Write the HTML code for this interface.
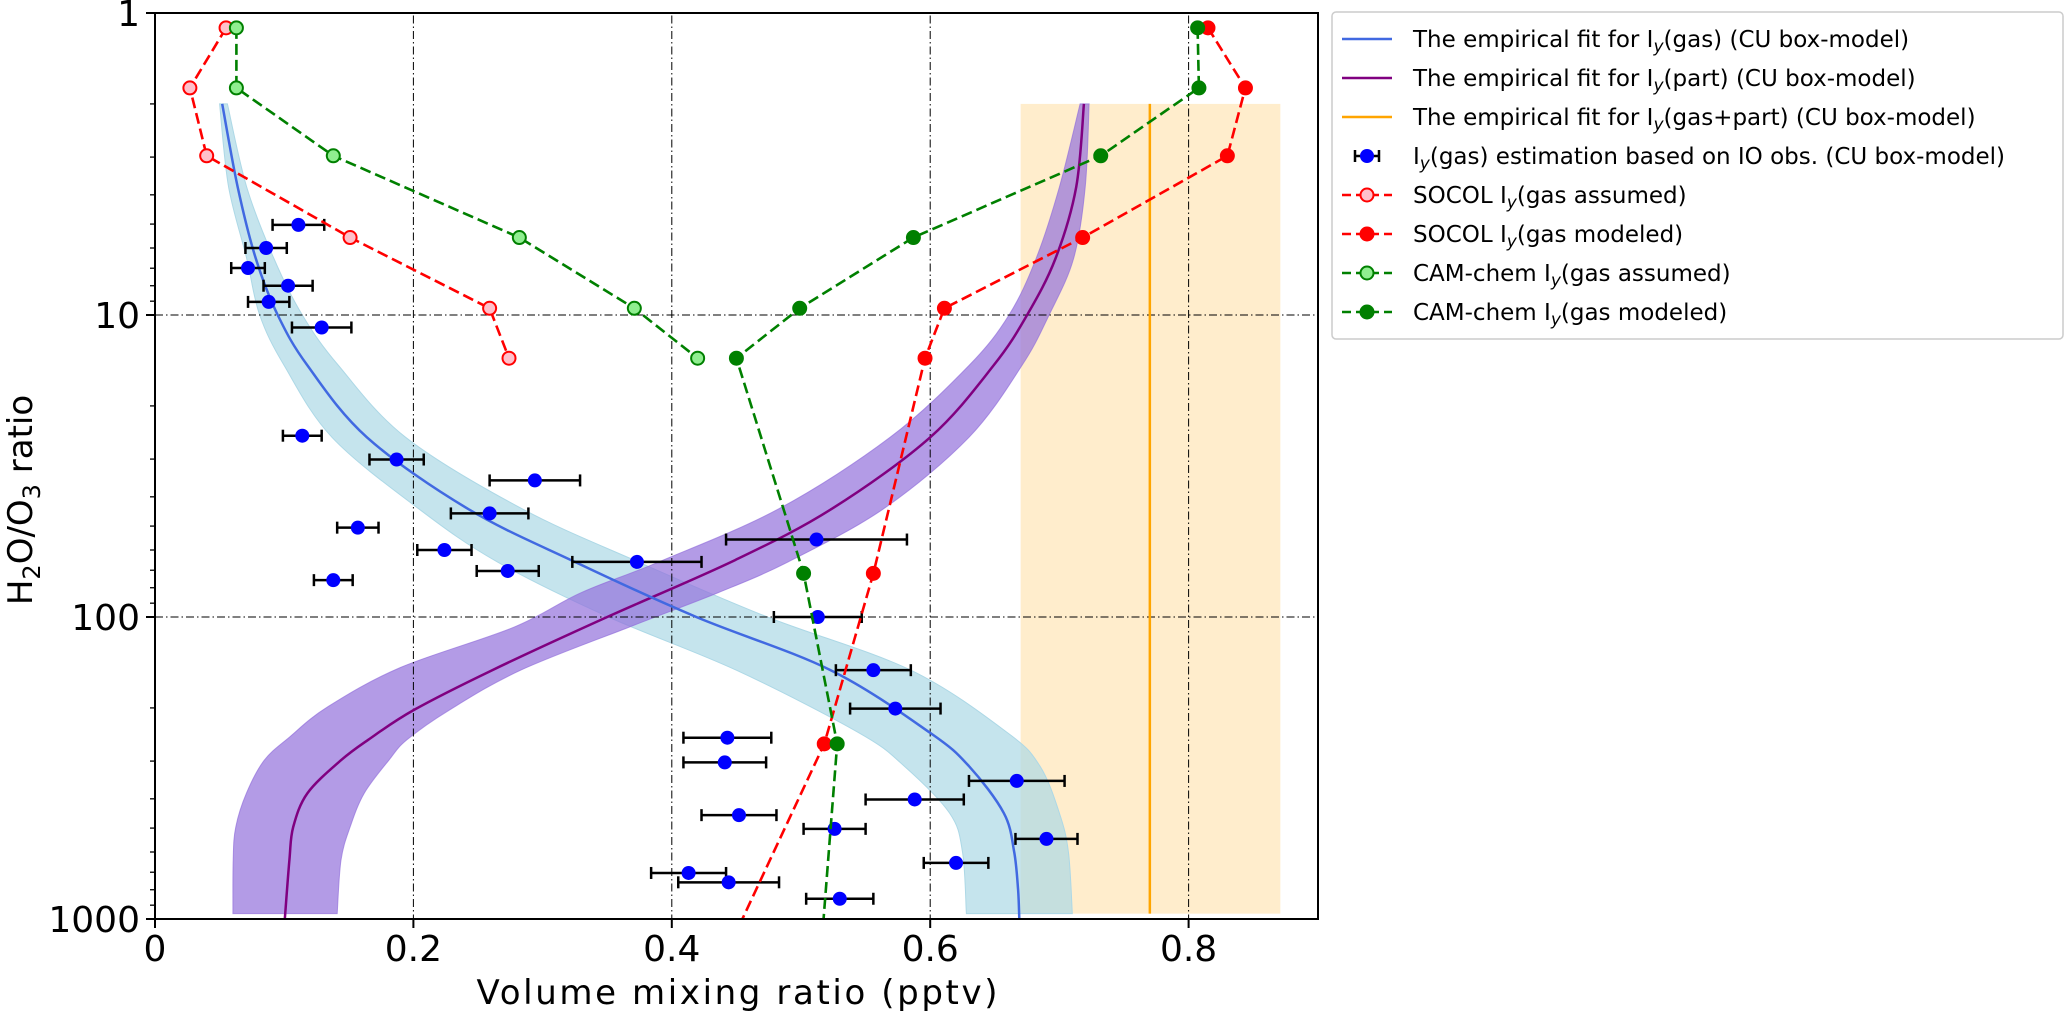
<!DOCTYPE html>
<html><head><meta charset="utf-8">
<style>
html,body{margin:0;padding:0;background:#fff;}
svg{display:block;font-family:"DejaVu Sans","Liberation Sans",sans-serif;}
</style></head>
<body>
<svg id="chart" width="2067" height="1016" viewBox="0 0 2067 1016" xmlns="http://www.w3.org/2000/svg">
<defs><clipPath id="plotclip"><rect x="155" y="13" width="1163" height="906"/></clipPath></defs>
<g id="plot" clip-path="url(#plotclip)"></g>
<g id="axes"></g>
<g id="legend"></g>
</svg>
<script>
// ---- data ----
const xTicks = [0, 0.2, 0.4, 0.6, 0.8];
const xTickLabels = ["0", "0.2", "0.4", "0.6", "0.8"];
const yTicks = [1, 10, 100, 1000];
const yTickLabels = ["1", "10", "100", "1000"];

const obsX = [0.111,0.086,0.072,0.103,0.088,0.129,0.114,0.187,0.294,0.259,0.157,0.224,0.512,0.373,0.273,0.138,0.513,0.556,0.573,0.443,0.441,0.588,0.452,0.526,0.620,0.413,0.444,0.530,0.667,0.690];
const obsY = [5.03,6.0,6.99,8.0,9.05,11.0,25.1,30.1,35.3,45.4,50.6,60.0,55.4,65.7,70.4,75.5,100,150,201,251,303,402,453,503,652,704,756,857,349,543];
const obsErr = [0.02,0.016,0.013,0.019,0.016,0.023,0.015,0.021,0.035,0.03,0.016,0.021,0.07,0.05,0.024,0.015,0.034,0.029,0.035,0.034,0.032,0.038,0.029,0.024,0.025,0.029,0.039,0.026,0.037,0.024];

const modelY = [1.12,1.77,2.97,5.54,9.5,13.9,71.7,263,1200];
const socolAssumedX = [0.055,0.027,0.040,0.151,0.259,0.274];
const socolModeledX = [0.815,0.844,0.830,0.718,0.611,0.596,0.556,0.518,0.446];
const camAssumedX = [0.063,0.063,0.138,0.282,0.371,0.420];
const camModeledX = [0.807,0.808,0.732,0.587,0.499,0.450,0.502,0.528,0.516];

const gasFitY = [2,3.77,6.5,10,14.7,25.4,43.8,65.7,100,150,242,312,446,600,800,1000];
const gasFitX = [0.052,0.064,0.078,0.095,0.118,0.164,0.242,0.325,0.419,0.523,0.600,0.630,0.657,0.665,0.668,0.669];
const gasBandY = [2,3.77,6.5,10,14.7,25.4,43.8,65.7,100,150,242,312,446,600,960];
const gasBandLo = [0.050,0.057,0.071,0.081,0.100,0.137,0.204,0.265,0.351,0.45,0.545,0.58,0.615,0.625,0.628];
const gasBandHi = [0.056,0.071,0.092,0.114,0.142,0.194,0.284,0.374,0.474,0.585,0.66,0.685,0.70,0.707,0.71];

const partFitY = [2,3.77,6.5,10,14.7,25.4,43.8,64.8,100,150,203,255,298,383,496,638,1000];
const partFitX = [0.719,0.713,0.697,0.675,0.649,0.600,0.524,0.449,0.350,0.261,0.2005,0.165,0.144,0.118,0.107,0.104,0.1005];
const partBandLoY = [2,3.77,6.5,10,14.7,25.4,43.8,65.7,83,108,147,198,250,298,383,496,638,960];
const partBandLo = [0.716,0.70,0.682,0.661,0.630,0.569,0.483,0.39,0.33,0.278,0.190,0.134,0.104,0.0846,0.0708,0.0625,0.0605,0.0603];
const partBandHiY = [2,3.77,6.5,10,14.7,25.4,43.8,65.7,83,108,150,203,255,298,383,496,638,960];
const partBandHi = [0.723,0.72,0.711,0.692,0.671,0.630,0.564,0.49,0.436,0.367,0.283,0.228,0.195,0.181,0.162,0.151,0.144,0.141];

const totalFitX = [0.770];
const totalBandX = [0.670, 0.871];
const totalRangeY = [2, 960];

// ---- scales ----
const X0 = 155, XS = 1292, Y0 = 13, YS = 302;
function xs(v){ return X0 + XS*v; }
function ys(v){ return Y0 + YS*Math.log10(v); }
const NS = "http://www.w3.org/2000/svg";
function mk(tag, parent, attrs){
  const e = document.createElementNS(NS, tag);
  for (const k in attrs) e.setAttribute(k, attrs[k]);
  parent.appendChild(e); return e;
}
const plot = document.getElementById('plot');
const axes = document.getElementById('axes');
const legend = document.getElementById('legend');

function smooth(pts, start){
  let d = (start ? 'M' : 'L') + pts[0][0].toFixed(1) + ',' + pts[0][1].toFixed(1);
  for (let i=0;i<pts.length-1;i++){
    const p0 = pts[Math.max(0,i-1)], p1 = pts[i], p2 = pts[i+1], p3 = pts[Math.min(pts.length-1,i+2)];
    const c1x = p1[0] + (p2[0]-p0[0])/6, c1y = p1[1] + (p2[1]-p0[1])/6;
    const c2x = p2[0] - (p3[0]-p1[0])/6, c2y = p2[1] - (p3[1]-p1[1])/6;
    d += 'C' + c1x.toFixed(1)+','+c1y.toFixed(1)+' '+c2x.toFixed(1)+','+c2y.toFixed(1)+' '+p2[0].toFixed(1)+','+p2[1].toFixed(1);
  }
  return d;
}
function pts(xArr, yArr){ return xArr.map((x,i)=>[xs(x), ys(yArr[i])]); }

let ob = mk('rect', plot, {x: xs(totalBandX[0]), y: ys(totalRangeY[0]), width: xs(totalBandX[1]) - xs(totalBandX[0]), height: ys(totalRangeY[1]) - ys(totalRangeY[0]), fill: '#ffa500', 'fill-opacity': 0.2});



function bandPath(loY, lo, hiY, hi){
  const a = pts(lo, loY);
  const b = pts(hi, hiY).reverse();
  return smooth(a, true) + smooth(b, false) + 'Z';
}
let gb = mk('path', plot, {d: bandPath(gasBandY, gasBandLo, gasBandY, gasBandHi), fill: '#add8e6', 'fill-opacity': 0.7, stroke: '#add8e6', 'stroke-width': 1});


let pb = mk('path', plot, {d: bandPath(partBandLoY, partBandLo, partBandHiY, partBandHi), fill: '#9370db', 'fill-opacity': 0.7, stroke: '#9370db', 'stroke-opacity': 0.7, 'stroke-width': 1});



xTicks.forEach((t,i)=>{ if(t===0) return;
  const g = mk('line', plot, {x1: xs(t), x2: xs(t), y1: 0, y2: 1016, stroke: '#000', 'stroke-width': 1, 'stroke-dasharray': '8,3,1.5,3'});
  
  
});
[10,100].forEach(t=>{
  const g = mk('line', plot, {x1: 0, x2: 2067, y1: ys(t), y2: ys(t), stroke: '#000', 'stroke-width': 1, 'stroke-dasharray': '8,3,1.5,3'});
  
  
});

function linePath(xArr, yArr){
  let d='';
  for (let i=0;i<xArr.length;i++) d += (i?'L':'M') + xs(xArr[i]).toFixed(1) + ',' + ys(yArr[i]).toFixed(1);
  return d;
}
let tl = mk('line', plot, {x1: xs(totalFitX[0]), x2: xs(totalFitX[0]), y1: ys(totalRangeY[0]), y2: ys(totalRangeY[1]), stroke: '#ffa500', 'stroke-width': 2.5});


let pl = mk('path', plot, {d: smooth(pts(partFitX, partFitY), true), fill: 'none', stroke: '#800080', 'stroke-width': 2.5});


let gl = mk('path', plot, {d: smooth(pts(gasFitX, gasFitY), true), fill: 'none', stroke: '#4169e1', 'stroke-width': 2.5});



obsX.forEach((x,i)=>{
  const g = mk('g', plot, {});
  
  
  const y = ys(obsY[i]);
  mk('line', g, {x1: xs(x-obsErr[i]), x2: xs(x+obsErr[i]), y1: y, y2: y, stroke: '#000', 'stroke-width': 2.5});
  mk('line', g, {x1: xs(x-obsErr[i]), x2: xs(x-obsErr[i]), y1: y-6, y2: y+6, stroke: '#000', 'stroke-width': 2.5});
  mk('line', g, {x1: xs(x+obsErr[i]), x2: xs(x+obsErr[i]), y1: y-6, y2: y+6, stroke: '#000', 'stroke-width': 2.5});
  mk('circle', g, {cx: xs(x), cy: y, r: 7, fill: '#0000ff'});
});

function series(xArr, color, mfill, name){
  const g = mk('g', plot, {});
  
  
  const yArr = modelY.slice(0, xArr.length);
  mk('path', g, {d: linePath(xArr, yArr), fill: 'none', stroke: color, 'stroke-width': 2.6, 'stroke-dasharray': '11,5'});
  xArr.forEach((x,i)=>{
    if (yArr[i] > 1000) return;
    const c = mk('circle', g, {cx: xs(x), cy: ys(yArr[i]), r: 6.5, fill: mfill, stroke: color, 'stroke-width': 2});
    
    
  });
}
series(socolAssumedX, '#ff0000', '#ffc0cb', 'socol-assumed-series');
series(socolModeledX, '#ff0000', '#ff0000', 'socol-modeled-series');
series(camAssumedX, '#008000', '#90ee90', 'camchem-assumed-series');
series(camModeledX, '#008000', '#008000', 'camchem-modeled-series');

let fr = mk('rect', axes, {x: 155, y: 13, width: 1163, height: 906, fill: 'none', stroke: '#000', 'stroke-width': 2});



xTicks.forEach((t,i)=>{
  const tk = mk('line', axes, {x1: xs(t), x2: xs(t), y1: 919, y2: 928, stroke: '#000', 'stroke-width': 2});
  
  
  const lb = mk('text', axes, {x: xs(t), y: 961, 'text-anchor': 'middle', 'font-size': 36, fill: '#000'});
  lb.textContent = xTickLabels[i];
  
  
});
yTicks.forEach((t,i)=>{
  const tk = mk('line', axes, {x1: 146, x2: 155, y1: ys(t), y2: ys(t), stroke: '#000', 'stroke-width': 2});
  
  
  const lb = mk('text', axes, {x: 140, y: ys(t)+13, 'text-anchor': 'end', 'font-size': 36, fill: '#000'});
  lb.textContent = yTickLabels[i];
  
  
});
[1,10,100].forEach(dec=>{
  for (let m=2;m<10;m++){
    const tk = mk('line', axes, {x1: 150, x2: 155, y1: ys(dec*m), y2: ys(dec*m), stroke: '#000', 'stroke-width': 1.3});
    
    
  }
});
const xt = mk('text', axes, {x: 737, y: 1004, 'text-anchor': 'middle', 'font-size': 34, fill: '#000', textLength: 521});
xt.textContent = 'Volume mixing ratio (pptv)';


const yt = mk('text', axes, {x: 0, y: 0, 'text-anchor': 'middle', 'font-size': 34, fill: '#000', transform: 'translate(32,500) rotate(-90)'});
yt.innerHTML = 'H<tspan font-size="24" dy="8">2</tspan><tspan dy="-8">O/O</tspan><tspan font-size="24" dy="8">3</tspan><tspan dy="-8"> ratio</tspan>';



const lbox = mk('rect', legend, {x: 1332, y: 12, width: 731, height: 327, rx: 4, fill: '#fff', stroke: '#cccccc', 'stroke-width': 1.5});


const entries = [
  {t:'The empirical fit for I<tspan font-style="italic" font-size="17" dy="5">y</tspan><tspan dy="-5">(gas) (CU box-model)</tspan>', kind:'line', c:'#4169e1'},
  {t:'The empirical fit for I<tspan font-style="italic" font-size="17" dy="5">y</tspan><tspan dy="-5">(part) (CU box-model)</tspan>', kind:'line', c:'#800080'},
  {t:'The empirical fit for I<tspan font-style="italic" font-size="17" dy="5">y</tspan><tspan dy="-5">(gas+part) (CU box-model)</tspan>', kind:'line', c:'#ffa500'},
  {t:'I<tspan font-style="italic" font-size="17" dy="5">y</tspan><tspan dy="-5">(gas) estimation based on IO obs. (CU box-model)</tspan>', kind:'err'},
  {t:'SOCOL I<tspan font-style="italic" font-size="17" dy="5">y</tspan><tspan dy="-5">(gas assumed)</tspan>', kind:'dash', c:'#ff0000', f:'#ffc0cb'},
  {t:'SOCOL I<tspan font-style="italic" font-size="17" dy="5">y</tspan><tspan dy="-5">(gas modeled)</tspan>', kind:'dash', c:'#ff0000', f:'#ff0000'},
  {t:'CAM-chem I<tspan font-style="italic" font-size="17" dy="5">y</tspan><tspan dy="-5">(gas assumed)</tspan>', kind:'dash', c:'#008000', f:'#90ee90'},
  {t:'CAM-chem I<tspan font-style="italic" font-size="17" dy="5">y</tspan><tspan dy="-5">(gas modeled)</tspan>', kind:'dash', c:'#008000', f:'#008000'}
];
entries.forEach((e,i)=>{
  const y = 39 + 39*i;
  const g = mk('g', legend, {});
  
  
  if (e.kind==='line') mk('line', g, {x1:1342, x2:1392, y1:y, y2:y, stroke:e.c, 'stroke-width':2.5});
  else if (e.kind==='err'){
    mk('line', g, {x1:1355, x2:1379, y1:y, y2:y, stroke:'#000', 'stroke-width':2.5});
    mk('line', g, {x1:1355, x2:1355, y1:y-6, y2:y+6, stroke:'#000', 'stroke-width':2.5});
    mk('line', g, {x1:1379, x2:1379, y1:y-6, y2:y+6, stroke:'#000', 'stroke-width':2.5});
    mk('circle', g, {cx:1367, cy:y, r:7, fill:'#0000ff'});
  } else {
    mk('line', g, {x1:1342, x2:1392, y1:y, y2:y, stroke:e.c, 'stroke-width':2.6, 'stroke-dasharray':'9,5'});
    mk('circle', g, {cx:1367, cy:y, r:6.5, fill:e.f, stroke:e.c, 'stroke-width':2});
  }
  const tx = mk('text', g, {x:1413, y:y+8, 'font-size':23, fill:'#000'});
  tx.innerHTML = e.t;
});
</script>
</body></html>
